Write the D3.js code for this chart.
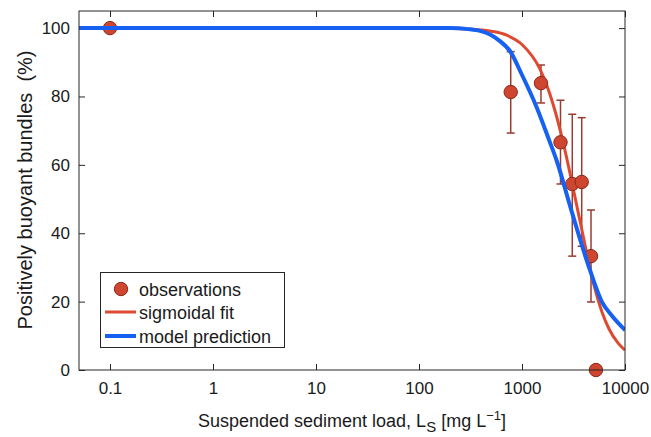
<!DOCTYPE html>
<html><head><meta charset="utf-8">
<script src="https://cdn.jsdelivr.net/npm/d3@7"></script>
<style>
html,body{margin:0;padding:0;background:#fff;}
text{font-family:"Liberation Sans",Arial,sans-serif;}
</style></head>
<body>
<svg id="chart" width="651" height="437"></svg>
<script>
// ---- data ----
const obsX    = [0.1, 777, 1528, 2365, 3077, 3800, 4677, 5224];
const obsY    = [100, 81.3, 83.9, 66.6, 54.4, 55.0, 33.3, 0];
const errLow  = [null, 69.3, 78.1, 54.4, 33.3, 36.2, 19.9, null];
const errHigh = [null, 93.1, 89.2, 78.9, 74.8, 73.8, 46.8, null];

const fitX = [0.05, 100, 200, 300, 500, 700, 1000, 1500, 2000, 2500, 3000, 3500, 4000, 5000, 6000, 7000, 8500, 10000];
const fitY = [100, 99.98, 99.9, 99.76, 99.1, 98.0, 95.2, 87.9, 77.8, 66.8, 56.0, 46.3, 38.0, 24.8, 16.8, 12.0, 8.0, 5.8];

const modelX = [0.05, 200, 300, 400, 500, 611, 764, 993, 1390, 1841, 2173, 3000, 4571, 5930, 7500, 10000];
const modelY = [100, 100, 99.7, 99.1, 98.0, 96.2, 93.3, 86.5, 76.8, 67.1, 61.2, 46.9, 29.2, 20.1, 15.8, 11.7];

const xTicks = [0.1, 1, 10, 100, 1000, 10000];
const xTickLabels = ["0.1", "1", "10", "100", "1000", "10000"];
const yTicks = [0, 20, 40, 60, 80, 100];
const legendLabels = ["observations", "sigmoidal fit", "model prediction"];

// ---- layout ----
const L = 79, R = 625, T = 11, B = 370;
const svg = d3.select("#chart");
const x = d3.scaleLog().domain([0.05, 10000]).range([L, R]);
const y = d3.scaleLinear().domain([0, 105]).range([B, T]);

const axisColor = "#262626";
const redLine = "#de4a31", blueLine = "#1660f2";
const dotFill = "#cf4630", dotStroke = "#8a2a1b", errColor = "#9a3b2f";

// axes with inward ticks
const fmt = (d) => xTickLabels[xTicks.indexOf(d)];
svg.append("g").attr("transform", `translate(0,${B})`)
  .call(d3.axisBottom(x).tickValues(xTicks).tickFormat(fmt).tickSizeInner(-6).tickSizeOuter(0).tickPadding(12))
  .call(g => { g.select(".domain").remove(); g.selectAll("line").attr("stroke", axisColor);
    g.selectAll("text").attr("font-size", 17).attr("fill", "#1a1a1a"); });
svg.append("g").attr("transform", `translate(0,${T})`)
  .call(d3.axisTop(x).tickValues(xTicks).tickFormat("").tickSizeInner(-6).tickSizeOuter(0))
  .call(g => { g.select(".domain").remove(); g.selectAll("line").attr("stroke", axisColor); });
svg.append("g").attr("transform", `translate(${L},0)`)
  .call(d3.axisLeft(y).tickValues(yTicks).tickSizeInner(-6).tickSizeOuter(0).tickPadding(9))
  .call(g => { g.select(".domain").remove(); g.selectAll("line").attr("stroke", axisColor);
    g.selectAll("text").attr("font-size", 17).attr("fill", "#1a1a1a"); });
svg.append("g").attr("transform", `translate(${R},0)`)
  .call(d3.axisRight(y).tickValues(yTicks).tickFormat("").tickSizeInner(-6).tickSizeOuter(0))
  .call(g => { g.select(".domain").remove(); g.selectAll("line").attr("stroke", axisColor); });

// clip
svg.append("clipPath").attr("id", "clip").append("rect")
  .attr("x", L).attr("y", T).attr("width", R - L).attr("height", B - T);

const plot = svg.append("g");

// error bars
const eb = obsX.map((d, i) => ({x: d, lo: errLow[i], hi: errHigh[i]})).filter(d => d.lo !== null);
const ebG = plot.append("g").attr("stroke", errColor).attr("stroke-width", 1.5);
ebG.selectAll(".v").data(eb).enter().append("line")
  .attr("x1", d => x(d.x)).attr("x2", d => x(d.x)).attr("y1", d => y(d.lo)).attr("y2", d => y(d.hi));
ebG.selectAll(".t").data(eb).enter().append("line")
  .attr("x1", d => x(d.x) - 4).attr("x2", d => x(d.x) + 4).attr("y1", d => y(d.hi)).attr("y2", d => y(d.hi));
ebG.selectAll(".b").data(eb).enter().append("line")
  .attr("x1", d => x(d.x) - 4).attr("x2", d => x(d.x) + 4).attr("y1", d => y(d.lo)).attr("y2", d => y(d.lo));

// red fit line
const line = d3.line().x(d => x(d[0])).y(d => y(d[1])).curve(d3.curveMonotoneX);
plot.append("path").datum(fitX.map((d, i) => [d, fitY[i]]))
  .attr("d", line).attr("fill", "none").attr("stroke", redLine).attr("stroke-width", 3)
  .attr("clip-path", "url(#clip)");

// dots
plot.append("g").selectAll("circle").data(obsX.map((d, i) => [d, obsY[i]])).enter().append("circle")
  .attr("cx", d => x(d[0])).attr("cy", d => y(d[1])).attr("r", 6.7)
  .attr("fill", dotFill).attr("stroke", dotStroke).attr("stroke-width", 1);

// blue model line
plot.append("path").datum(modelX.map((d, i) => [d, modelY[i]]))
  .attr("d", line).attr("fill", "none").attr("stroke", blueLine).attr("stroke-width", 4)
  .attr("clip-path", "url(#clip)");

// frame
svg.append("rect").attr("x", L).attr("y", T).attr("width", R - L).attr("height", B - T)
  .attr("fill", "none").attr("stroke", axisColor).attr("stroke-width", 1);

// legend
const lg = svg.append("g");
lg.append("rect").attr("x", 100.5).attr("y", 272.5).attr("width", 184).attr("height", 75)
  .attr("fill", "#fff").attr("stroke", axisColor).attr("stroke-width", 1);
const ly = [289, 312, 336];
lg.append("circle").attr("cx", 121).attr("cy", ly[0]).attr("r", 6.7)
  .attr("fill", dotFill).attr("stroke", dotStroke);
lg.append("line").attr("x1", 105).attr("x2", 136).attr("y1", ly[1]).attr("y2", ly[1])
  .attr("stroke", redLine).attr("stroke-width", 3);
lg.append("line").attr("x1", 105).attr("x2", 136).attr("y1", ly[2]).attr("y2", ly[2])
  .attr("stroke", blueLine).attr("stroke-width", 4);
lg.selectAll("text.lab").data(legendLabels).enter().append("text")
  .attr("x", 139).attr("y", (d, i) => ly[i] + 6.5).attr("font-size", 18).attr("fill", "#1a1a1a")
  .text(d => d);

// axis titles
svg.append("text").attr("transform", "translate(32,190) rotate(-90)")
  .attr("text-anchor", "middle").attr("font-size", 20).attr("fill", "#1a1a1a")
  .text("Positively buoyant bundles\u00a0 (%)");

const xt = svg.append("text").attr("x", (L + R) / 2).attr("y", 427)
  .attr("text-anchor", "middle").attr("font-size", 18).attr("fill", "#1a1a1a");
xt.append("tspan").text("Suspended sediment load, L");
xt.append("tspan").attr("dy", 5).attr("font-size", 15).text("S");
xt.append("tspan").attr("dy", -5).text(" [mg L");
xt.append("tspan").attr("dy", -7).attr("font-size", 13).text("\u22121");
xt.append("tspan").attr("dy", 7).text("]");
</script>
</body></html>
